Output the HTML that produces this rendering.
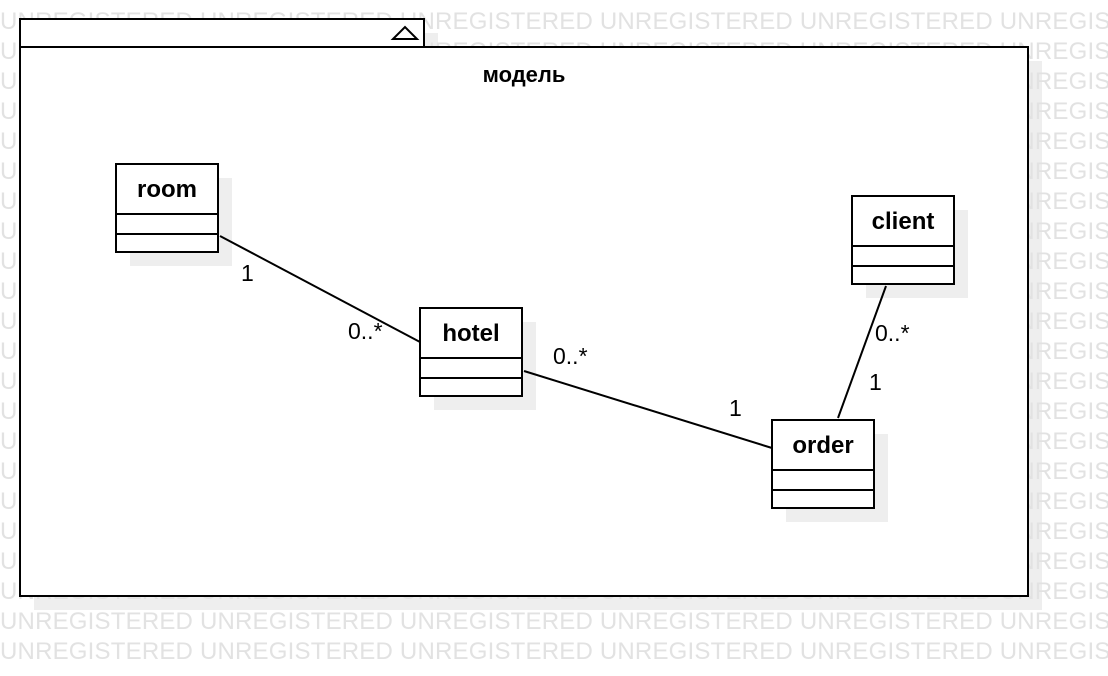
<!DOCTYPE html>
<html><head><meta charset="utf-8"><style>html,body{margin:0;padding:0;background:#fff}svg{display:block}</style></head>
<body>
<svg width="1108" height="676" xmlns="http://www.w3.org/2000/svg" font-family="Liberation Sans, sans-serif">
<g fill="#eeeeee">
<rect x="34" y="61" width="1008" height="549"/>
<rect x="34" y="33" width="404" height="28"/>
</g>
<g fill="#e2e2e2" font-size="24" letter-spacing="0.2">
<text x="0" y="29">UNREGISTERED UNREGISTERED UNREGISTERED UNREGISTERED UNREGISTERED UNREGISTERED</text>
<text x="0" y="59">UNREGISTERED UNREGISTERED UNREGISTERED UNREGISTERED UNREGISTERED UNREGISTERED</text>
<text x="0" y="89">UNREGISTERED UNREGISTERED UNREGISTERED UNREGISTERED UNREGISTERED UNREGISTERED</text>
<text x="0" y="119">UNREGISTERED UNREGISTERED UNREGISTERED UNREGISTERED UNREGISTERED UNREGISTERED</text>
<text x="0" y="149">UNREGISTERED UNREGISTERED UNREGISTERED UNREGISTERED UNREGISTERED UNREGISTERED</text>
<text x="0" y="179">UNREGISTERED UNREGISTERED UNREGISTERED UNREGISTERED UNREGISTERED UNREGISTERED</text>
<text x="0" y="209">UNREGISTERED UNREGISTERED UNREGISTERED UNREGISTERED UNREGISTERED UNREGISTERED</text>
<text x="0" y="239">UNREGISTERED UNREGISTERED UNREGISTERED UNREGISTERED UNREGISTERED UNREGISTERED</text>
<text x="0" y="269">UNREGISTERED UNREGISTERED UNREGISTERED UNREGISTERED UNREGISTERED UNREGISTERED</text>
<text x="0" y="299">UNREGISTERED UNREGISTERED UNREGISTERED UNREGISTERED UNREGISTERED UNREGISTERED</text>
<text x="0" y="329">UNREGISTERED UNREGISTERED UNREGISTERED UNREGISTERED UNREGISTERED UNREGISTERED</text>
<text x="0" y="359">UNREGISTERED UNREGISTERED UNREGISTERED UNREGISTERED UNREGISTERED UNREGISTERED</text>
<text x="0" y="389">UNREGISTERED UNREGISTERED UNREGISTERED UNREGISTERED UNREGISTERED UNREGISTERED</text>
<text x="0" y="419">UNREGISTERED UNREGISTERED UNREGISTERED UNREGISTERED UNREGISTERED UNREGISTERED</text>
<text x="0" y="449">UNREGISTERED UNREGISTERED UNREGISTERED UNREGISTERED UNREGISTERED UNREGISTERED</text>
<text x="0" y="479">UNREGISTERED UNREGISTERED UNREGISTERED UNREGISTERED UNREGISTERED UNREGISTERED</text>
<text x="0" y="509">UNREGISTERED UNREGISTERED UNREGISTERED UNREGISTERED UNREGISTERED UNREGISTERED</text>
<text x="0" y="539">UNREGISTERED UNREGISTERED UNREGISTERED UNREGISTERED UNREGISTERED UNREGISTERED</text>
<text x="0" y="569">UNREGISTERED UNREGISTERED UNREGISTERED UNREGISTERED UNREGISTERED UNREGISTERED</text>
<text x="0" y="599">UNREGISTERED UNREGISTERED UNREGISTERED UNREGISTERED UNREGISTERED UNREGISTERED</text>
<text x="0" y="629">UNREGISTERED UNREGISTERED UNREGISTERED UNREGISTERED UNREGISTERED UNREGISTERED</text>
<text x="0" y="659">UNREGISTERED UNREGISTERED UNREGISTERED UNREGISTERED UNREGISTERED UNREGISTERED</text>
</g>
<g stroke="#000" stroke-width="2" fill="#fff">
<rect x="20" y="19" width="404" height="28"/>
<rect x="20" y="47" width="1008" height="549"/>
</g>
<polygon points="393,39 405,27 417,39" fill="none" stroke="#000" stroke-width="2"/>
<text x="524" y="82" font-size="22" font-weight="bold" text-anchor="middle" font-family="Liberation Sans, DejaVu Sans, sans-serif">модель</text>
<g fill="#eeeeee">
<rect x="130" y="178" width="102" height="88"/>
<rect x="434" y="322" width="102" height="88"/>
<rect x="866" y="210" width="102" height="88"/>
<rect x="786" y="434" width="102" height="88"/>
</g>
<g stroke="#000" stroke-width="2">
<line x1="220" y1="236" x2="420" y2="342"/>
<line x1="524" y1="371" x2="772" y2="448"/>
<line x1="886" y1="286" x2="838" y2="418"/>
</g>
<g stroke="#000" stroke-width="2" fill="#fff">
<rect x="116" y="164" width="102" height="88"/><line x1="116" y1="214" x2="218" y2="214"/><line x1="116" y1="234" x2="218" y2="234"/>
<rect x="420" y="308" width="102" height="88"/><line x1="420" y1="358" x2="522" y2="358"/><line x1="420" y1="378" x2="522" y2="378"/>
<rect x="852" y="196" width="102" height="88"/><line x1="852" y1="246" x2="954" y2="246"/><line x1="852" y1="266" x2="954" y2="266"/>
<rect x="772" y="420" width="102" height="88"/><line x1="772" y1="470" x2="874" y2="470"/><line x1="772" y1="490" x2="874" y2="490"/>
</g>
<g font-size="24" font-weight="bold" text-anchor="middle">
<text x="167" y="197">room</text>
<text x="471" y="341">hotel</text>
<text x="903" y="229">client</text>
<text x="823" y="453">order</text>
</g>
<g font-size="23">
<text x="241" y="281">1</text>
<text x="348" y="339">0..*</text>
<text x="553" y="364">0..*</text>
<text x="729" y="416">1</text>
<text x="875" y="341">0..*</text>
<text x="869" y="390">1</text>
</g>
</svg>
</body></html>
